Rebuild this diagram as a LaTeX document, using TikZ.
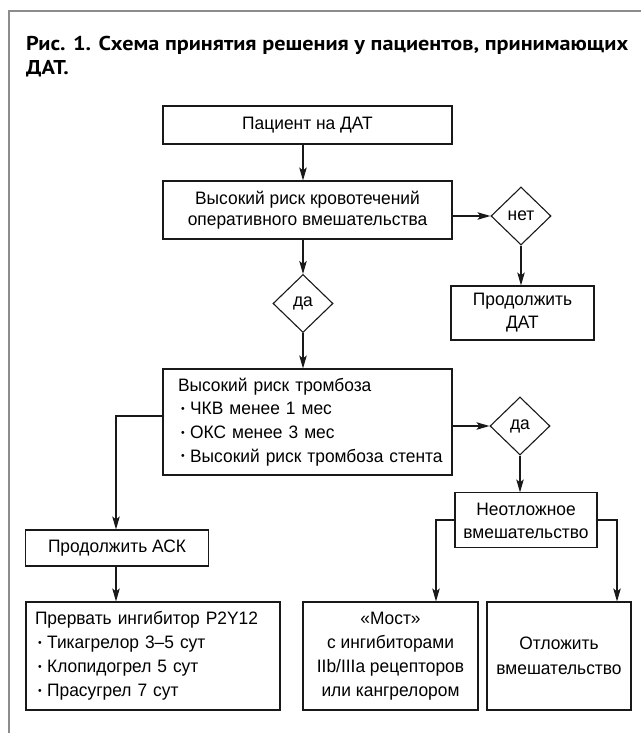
\documentclass[tikz,border=0pt]{standalone}
\usepackage{fontspec}
\setmainfont{Liberation Sans}[FakeStretch=0.965]
\newfontfamily\ttlfont{PT Sans}
\usetikzlibrary{shapes.geometric,arrows.meta}
\newsavebox\ttlbox
\newcommand\bul{\hspace*{3pt}\raisebox{0.14em}{\scalebox{0.6}{•}}\hspace{5.5pt}}
\begin{document}
\sbox\ttlbox{\ttlfont\bfseries\fontsize{20}{24}\selectfont Рис. 1. Схема принятия решения у пациентов, принимающих}%
\pgfmathsetmacro\tsc{602/\the\wd\ttlbox}%
\begin{tikzpicture}[x=1pt,y=-1pt,
  box/.style={draw=black!90, line width=1.1pt, inner sep=0pt, align=center, font=\fontsize{18}{24}\selectfont},
  dia/.style={diamond, draw=black!90, line width=1.1pt, inner sep=0pt, minimum width=60pt, minimum height=58pt, font=\fontsize{18}{24}\selectfont},
  arr/.style={-{Stealth[length=13pt,width=7.5pt,inset=3pt]}, line width=1.1pt, draw=black!90},
  frame/.style={draw=black!45, line width=1.2pt}]
\useasboundingbox (0,0) rectangle (641,733);
\fill[white] (0,0) rectangle (641,733);
\draw[frame] (9,733) -- (9,11) -- (641,11);
\node[anchor=base west, inner sep=0pt, align=left, font=\ttlfont\bfseries\fontsize{20}{24}\selectfont] (title) at (26,75)
  {\scalebox{\tsc}[1]{Рис. 1. Схема принятия решения у пациентов, принимающих}\\\scalebox{\tsc}[1]{ДАТ.}};

\node[box, minimum width=289pt, minimum height=38pt] (b1) at (307.5,125) {Пациент на ДАТ};
\node[box, minimum width=289pt, minimum height=58pt, font=\fontsize{18}{21}\selectfont] (b2) at (307.5,210) {Высокий риск кровотечений\\оперативного вмешательства};
\node[dia] (net) at (521,216) {нет};
\node[box, minimum width=143pt, minimum height=54pt, font=\fontsize{18}{23}\selectfont] (pdat) at (522.5,313) {Продолжить\\ДАТ};
\node[dia] (da1) at (303,303.5) {да};
\node[box, minimum width=289pt, minimum height=106pt, text width=259pt, align=left, font=\fontsize{18}{23.7}\selectfont] (b3) at (307.5,422) {\mbox{Высокий риск тромбоза}\\\mbox{\bul ЧКВ менее 1 мес}\\\mbox{\bul ОКС менее 3 мес}\\\mbox{\bul Высокий риск тромбоза стента}};
\node[dia] (da2) at (520,426) {да};
\node[box, minimum width=142pt, minimum height=55pt, font=\fontsize{18}{23}\selectfont] (neo) at (526,520.4) {Неотложное\\вмешательство};
\node[box, minimum width=183pt, minimum height=36pt] (ask) at (117,548) {Продолжить АСК};
\node[box, minimum width=254pt, minimum height=108pt, text width=236pt, align=left] (prer) at (153,656) {\mbox{Прервать ингибитор P2Y12}\\\mbox{\bul Тикагрелор 3–5 сут}\\\mbox{\bul Клопидогрел 5 сут}\\\mbox{\bul Прасугрел 7 сут}};
\node[box, minimum width=175pt, minimum height=108pt] (most) at (390.5,656) {«Мост»\\с ингибиторами\\IIb/IIIa рецепторов\\или кангрелором};
\node[box, minimum width=144pt, minimum height=108pt, font=\fontsize{18}{25}\selectfont] (otl) at (559,656) {Отложить\\вмешательство};

\coordinate (mx) at (303,0);
\coordinate (k1) at (116,416);
\coordinate (k2) at (436,520);
\coordinate (k3) at (617,520);
\draw[arr] (b1.south -| mx) -- (b2.north -| mx);
\draw[arr] (net.west -| b2.east) -- (net.west);
\draw[arr] (net.south) -- (net.south |- pdat.north);
\draw[arr] (b2.south -| mx) -- (da1.north);
\draw[arr] (da1.south) -- (da1.south |- b3.north);
\draw[arr] (k1 -| b3.west) -- (k1) -- (k1 |- ask.north);
\draw[arr] (da2.west -| b3.east) -- (da2.west);
\draw[arr] (da2.south) -- (da2.south |- neo.north);
\draw[arr] (k2 -| neo.west) -- (k2) -- (k2 |- most.north);
\draw[arr] (k3 -| neo.east) -- (k3) -- (k3 |- otl.north);
\draw[arr] (ask.south -| k1) -- (k1 |- prer.north);
\end{tikzpicture}
\end{document}
